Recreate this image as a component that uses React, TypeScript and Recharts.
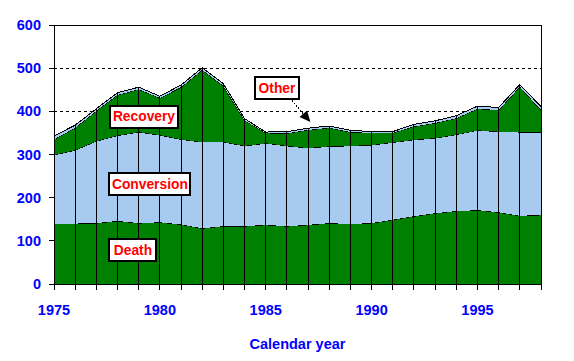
import React from 'react';
import {
  ComposedChart,
  Area,
  XAxis,
  YAxis,
  CartesianGrid,
  ReferenceLine,
  ReferenceDot,
  Label,
} from 'recharts';

const years = [1975, 1976, 1977, 1978, 1979, 1980, 1981, 1982, 1983, 1984, 1985, 1986, 1987, 1988, 1989, 1990, 1991, 1992, 1993, 1994, 1995, 1996, 1997, 1998];
const death = [140, 140, 141, 146, 141, 143, 138, 129, 134, 134, 137, 134, 137, 141, 139, 141, 149, 157, 164, 169, 171, 166, 158, 160];
const conversion = [159, 170, 190, 198, 211, 202, 197, 200, 195, 186, 189, 186, 178, 178, 181, 181, 179, 177, 174, 177, 185, 187, 194, 192];
const recovery = [36, 52, 70, 94, 99, 86, 121, 167, 130, 59, 24, 29, 42, 43, 32, 28, 22, 31, 35, 38, 50, 50, 105, 51];
const other = [8, 6, 5, 5, 5, 4, 5, 5, 5, 4, 2, 4, 4, 4, 4, 3, 3, 5, 5, 6, 6, 6, 5, 8];

const xTickLabels = [1975, 1980, 1985, 1990, 1995];
const yTicks = [0, 100, 200, 300, 400, 500, 600];

const seriesLabels = ['Death', 'Conversion', 'Recovery', 'Other'];
const labelYears = [1978.73, 1979.53, 1979.25, 1985.53];
const labelValues = [78, 231, 388, 455];
const labelWidths = [47, 81, 68, 44];

const data = years.map((year, i) => ({
  year,
  death: death[i],
  conversion: conversion[i],
  recovery: recovery[i],
  other: other[i],
  total: death[i] + conversion[i] + recovery[i] + other[i],
}));

const FONT = '"Liberation Sans", Arial, sans-serif';
const BLUE = '#0000FF';
const GREEN = '#008000';
const LIGHT = '#A6CAF0';

const XTick = (props: any) => {
  const { x, y, payload } = props;
  if (!xTickLabels.includes(payload.value)) return <g />;
  return (
    <text x={x} y={y} dy="0.71em" textAnchor="middle" fill={BLUE} fontWeight="bold" fontSize={14.5} fontFamily={FONT}>
      {payload.value}
    </text>
  );
};

const makeBox = (text: string, w: number, arrow: boolean) => (props: any) => {
  const { cx, cy } = props;
  const h = 22;
  const tip = { x: cx + 33.5, y: cy + 34.5 };
  const start = { x: cx + 15, y: cy + 13 };
  const dx = tip.x - start.x;
  const dy = tip.y - start.y;
  const len = Math.sqrt(dx * dx + dy * dy);
  const ux = dx / len;
  const uy = dy / len;
  const bx = tip.x - ux * 11;
  const by = tip.y - uy * 11;
  const px = -uy * 5;
  const py = ux * 5;
  return (
    <g>
      {arrow && (
        <g>
          <line x1={start.x} y1={start.y} x2={bx} y2={by} stroke="#000" strokeWidth={1} strokeDasharray="2 1" />
          <polygon points={`${tip.x},${tip.y} ${bx + px},${by + py} ${bx - px},${by - py}`} fill="#000" />
        </g>
      )}
      <rect x={Math.round(cx - w / 2)} y={Math.round(cy - h / 2)} width={w} height={h} fill="#fff" stroke="#000" strokeWidth={2} />
      <text x={cx} y={cy} dy="0.36em" textAnchor="middle" fill="#FF0000" fontWeight="bold" fontSize={13.8} fontFamily={FONT}>
        {text}
      </text>
    </g>
  );
};

export default function App() {
  return (
    <div style={{ position: 'absolute', left: 0, top: 0, width: 574, height: 361, background: '#fff' }}>
      <style>{`.recharts-surface line, .recharts-surface path, .recharts-surface rect { shape-rendering: crispEdges; }`}</style>
      <ComposedChart width={574} height={361} data={data} margin={{ top: 25, right: 33, bottom: 0, left: 0 }}>
        <CartesianGrid horizontal vertical={false} stroke="#000" strokeDasharray="3 3" />
        <XAxis
          dataKey="year"
          type="number"
          domain={[1975, 1998]}
          ticks={years}
          interval={0}
          tick={<XTick />}
          tickSize={6}
          tickMargin={15}
          axisLine={{ stroke: '#000' }}
          tickLine={{ stroke: '#000' }}
          height={77}
        >
          <Label value="Calendar year" position="insideBottom" offset={12} fill={BLUE} fontWeight="bold" fontSize={14.5} fontFamily={FONT} />
        </XAxis>
        <YAxis
          type="number"
          domain={[0, 600]}
          ticks={yTicks}
          interval={0}
          width={54}
          tickSize={5}
          tickMargin={8}
          axisLine={{ stroke: '#000' }}
          tickLine={{ stroke: '#000' }}
          tick={{ fill: BLUE, fontWeight: 'bold', fontSize: 14.5, fontFamily: FONT }}
        />
        <Area type="linear" dataKey="death" stackId="1" fill={GREEN} fillOpacity={1} stroke="#000" strokeWidth={1} isAnimationActive={false} dot={false} activeDot={false} />
        <Area type="linear" dataKey="conversion" stackId="1" fill={LIGHT} fillOpacity={1} stroke="#000" strokeWidth={1} isAnimationActive={false} dot={false} activeDot={false} />
        <Area type="linear" dataKey="recovery" stackId="1" fill={GREEN} fillOpacity={1} stroke="#000" strokeWidth={1} isAnimationActive={false} dot={false} activeDot={false} />
        <Area type="linear" dataKey="other" stackId="1" fill={LIGHT} fillOpacity={1} stroke="#000" strokeWidth={1} isAnimationActive={false} dot={false} activeDot={false} />
        {data.map((d) => (
          <ReferenceLine
            key={d.year}
            segment={[{ x: d.year, y: 0 }, { x: d.year, y: d.total }]}
            stroke="#000"
            strokeWidth={1}
          />
        ))}
        <ReferenceLine y={600} stroke="#000" strokeWidth={1} />
        <ReferenceLine x={1998} stroke="#000" strokeWidth={1} />
        {seriesLabels.map((s, i) => (
          <ReferenceDot
            key={s}
            x={labelYears[i]}
            y={labelValues[i]}
            r={0}
            shape={makeBox(s, labelWidths[i], s === 'Other')}
          />
        ))}
      </ComposedChart>
    </div>
  );
}
